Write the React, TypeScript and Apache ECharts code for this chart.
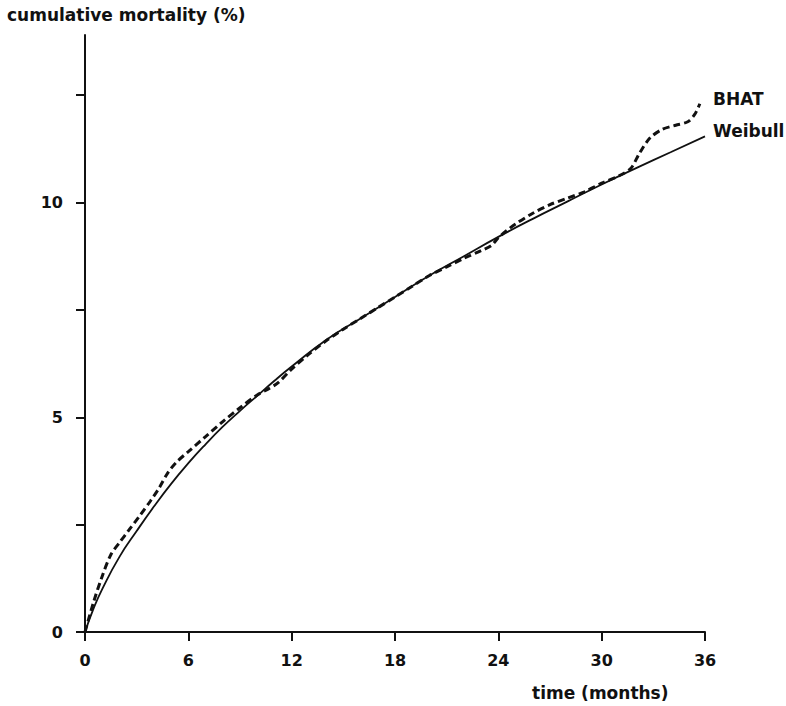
import React, { useEffect, useRef } from "react";
import * as echarts from "echarts";

// Months since start, cumulative mortality (%) — BHAT observed curve
const bhatMonths = [0, 0.5, 1.0, 1.5, 2.0, 2.6, 3.2, 3.8, 4.3, 4.8, 5.3, 6.0, 7.0, 8.0, 9.0, 10.0, 10.6, 11.2, 12.0, 13.0, 14.0, 15.0, 16.0, 17.0, 18.0, 19.0, 20.0, 21.0, 22.0, 23.0, 23.6, 24.0, 24.5, 25.0, 26.0, 27.0, 28.0, 29.0, 30.0, 31.0, 31.7, 32.2, 32.8, 33.5, 34.3, 35.0, 35.4, 35.7];
const bhatMortality = [0, 0.7, 1.3, 1.8, 2.08, 2.4, 2.72, 3.05, 3.35, 3.7, 3.95, 4.2, 4.55, 4.9, 5.22, 5.52, 5.65, 5.8, 6.12, 6.47, 6.78, 7.05, 7.3, 7.55, 7.8, 8.05, 8.3, 8.5, 8.7, 8.88, 9.0, 9.18, 9.35, 9.5, 9.75, 9.95, 10.1, 10.25, 10.45, 10.62, 10.8, 11.15, 11.5, 11.7, 11.8, 11.88, 12.05, 12.3];

// Weibull fitted curve
const weibullMonths = [0, 0.5, 1, 2, 3, 4, 5, 6, 7, 8, 9, 10, 11, 12, 14, 16, 18, 20, 22, 24, 26, 28, 30, 32, 34, 36];
const weibullMortality = [0, 0.55, 1.0, 1.75, 2.35, 2.92, 3.45, 3.93, 4.37, 4.78, 5.15, 5.5, 5.85, 6.18, 6.8, 7.3, 7.8, 8.3, 8.75, 9.2, 9.62, 10.02, 10.42, 10.8, 11.17, 11.54];

const xTicks = [0, 6, 12, 18, 24, 30, 36];
const yTicks = [0, 2.5, 5, 7.5, 10, 12.5];
const yLabels = [0, 5, 10];

const seriesNames = ["BHAT", "Weibull"];
const yTitle = "cumulative mortality (%)";
const xTitle = "time (months)";

const FONT = "DejaVu Sans";
const INK = "#111";

export default function App() {
  const ref = useRef<HTMLDivElement>(null);

  useEffect(() => {
    if (!ref.current) return;
    const chart = echarts.init(ref.current, null, { renderer: "svg" });
    const zip = (xs: number[], ys: number[]) => xs.map((x, i) => [x, ys[i]]);

    chart.setOption({
      animation: false,
      backgroundColor: "#fff",
      grid: { left: 85, right: 81, top: 35, bottom: 74 },
      xAxis: {
        type: "value",
        min: 0,
        max: 36,
        interval: 6,
        splitLine: { show: false },
        axisLine: { lineStyle: { color: INK, width: 2 } },
        axisTick: { show: true, length: 9, lineStyle: { color: INK, width: 2 }, customValues: xTicks },
        axisLabel: { margin: 20, color: INK, fontFamily: FONT, fontSize: 16, fontWeight: "bold", customValues: xTicks },
      },
      yAxis: {
        type: "value",
        min: 0,
        max: 13.9,
        splitLine: { show: false },
        axisLine: { show: true, lineStyle: { color: INK, width: 2 } },
        axisTick: { show: true, length: 9, lineStyle: { color: INK, width: 2 }, customValues: yTicks },
        axisLabel: { margin: 22, color: INK, fontFamily: FONT, fontSize: 16, fontWeight: "bold", customValues: yLabels },
      },
      series: [
        {
          name: seriesNames[0],
          type: "line",
          data: zip(bhatMonths, bhatMortality),
          smooth: 0.3,
          symbol: "none",
          lineStyle: { color: INK, width: 3, type: [7, 4] },
          z: 3,
        },
        {
          name: seriesNames[1],
          type: "line",
          data: zip(weibullMonths, weibullMortality),
          smooth: true,
          symbol: "none",
          lineStyle: { color: INK, width: 1.8, type: "solid" },
          z: 2,
        },
      ],
      graphic: [
        {
          type: "text",
          left: 7,
          top: 6,
          style: { text: yTitle, fill: INK, font: `bold 17px "${FONT}"` },
        },
        {
          type: "text",
          left: 532,
          top: 684,
          style: { text: xTitle, fill: INK, font: `bold 17px "${FONT}"` },
        },
        {
          type: "text",
          left: 713,
          top: 90,
          style: { text: seriesNames[0], fill: INK, font: `bold 17px "${FONT}"` },
        },
        {
          type: "text",
          left: 713,
          top: 122,
          style: { text: seriesNames[1], fill: INK, font: `bold 17px "${FONT}"` },
        },
      ],
    });

    return () => chart.dispose();
  }, []);

  return (
    <div
      ref={ref}
      style={{ position: "absolute", left: 0, top: 0, width: 786, height: 706 }}
    />
  );
}
